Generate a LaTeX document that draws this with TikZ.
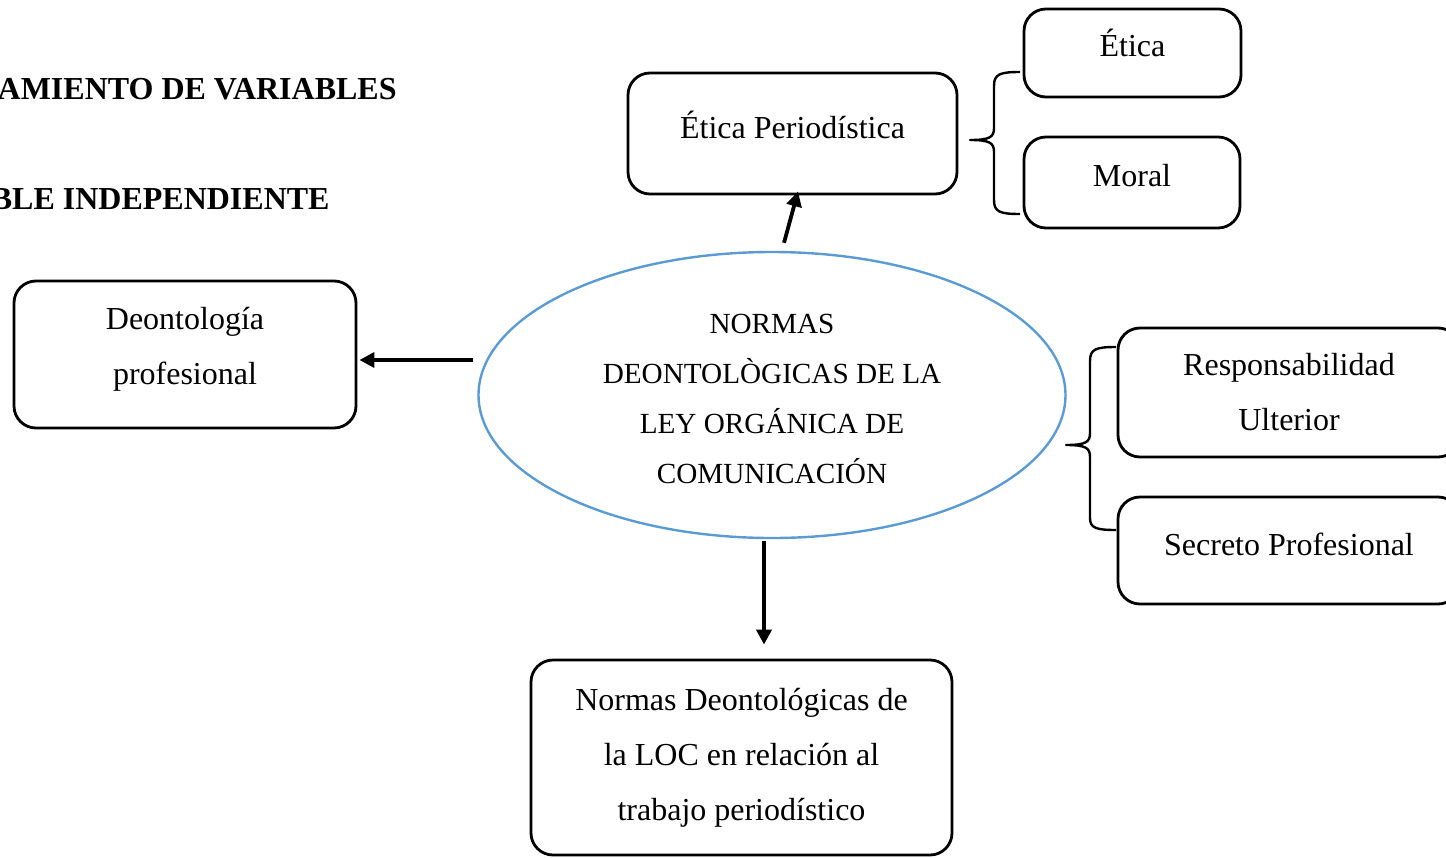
\documentclass[tikz,border=0pt]{standalone}
\usepackage{fontspec}
\setmainfont{Liberation Serif}
\usetikzlibrary{shapes.geometric,arrows.meta,calc}
\definecolor{ellblue}{RGB}{91,155,213}
\begin{document}
\begin{tikzpicture}[x=0.5pt,y=-0.5pt,
  box/.style={draw=black,line width=1.4pt,rounded corners=11pt,align=center,
    font=\fontsize{16}{27.5}\selectfont,inner sep=0pt},
  arr/.style={line width=1.9pt,-{Triangle[length=7.5pt,width=7.5pt]}},
  brace/.style={line width=1.2pt,line join=round},
  head/.style={font=\fontsize{16}{19}\selectfont\bfseries,inner sep=0pt,anchor=base east}]
\useasboundingbox (0,0) rectangle (1446,857);

\node[head] (h1) at (397,99) {AMIENTO DE VARIABLES};
\node[head] (h2) at (330,209) {BLE INDEPENDIENTE};

\node[draw=ellblue,line width=1.2pt,ellipse,minimum width=293.5pt,minimum height=143pt,
  align=center,font=\fontsize{14.6}{25}\selectfont,inner sep=0pt] (ell) at (772,395)
  {\rule{0pt}{14pt}NORMAS\\DEONTOLÒGICAS DE LA\\LEY ORGÁNICA DE\\COMUNICACIÓN};

\node[box,minimum width=164.5pt,minimum height=60.5pt,text depth=8.5pt] (etp) at (792.5,133.5) {Ética Periodística};
\node[box,minimum width=108.5pt,minimum height=44pt,text depth=10pt] (etica) at (1132.5,53) {Ética};
\node[box,minimum width=108pt,minimum height=45.5pt,text depth=7.5pt] (moral) at (1132,182.5) {Moral};
\node[box,minimum width=171pt,minimum height=73.5pt] (deo) at (185,354.5) {Deontología\\profesional\\[-19pt]\mbox{}};
\node[box,minimum width=171pt,minimum height=64.5pt] (resp) at (1289,392.5) {Responsabilidad\\Ulterior};
\node[box,minimum width=171pt,minimum height=53.5pt,text depth=6.5pt] (sec) at (1289,550.5) {Secreto Profesional};
\node[box,minimum width=210.5pt,minimum height=97.5pt] (norm) at (741.5,757.5)
  {Normas Deontológicas de\\la LOC en relación al\\trabajo periodístico};

\draw[arr] ($(ell.north)+(12,-8)$) -- ($(etp.south)+(5.5,-4)$);
\draw[arr] ($(ell.west)+(-4,-35)$) -- ($(deo.east)+(2,5.5)$);
\draw[arr] ($(ell.south)+(-8,2)$) -- ($(norm.north)+(22.5,-14)$);

% brace Etica / Moral
\draw[brace] (1020,72) .. controls (1000,72) and (994,74) .. (994,86) -- (994,128)
  .. controls (994,137) and (990,140) .. (970,140)
  .. controls (990,140) and (994,143) .. (994,152) -- (994,200)
  .. controls (994,212) and (1000,214) .. (1020,214);
% brace Responsabilidad / Secreto
\draw[brace] (1116,347) .. controls (1096,347) and (1090,349) .. (1090,361) -- (1090,433)
  .. controls (1090,442) and (1086,445) .. (1066,445)
  .. controls (1086,445) and (1090,448) .. (1090,457) -- (1090,518)
  .. controls (1090,528) and (1096,530) .. (1116,530);
\end{tikzpicture}
\end{document}
